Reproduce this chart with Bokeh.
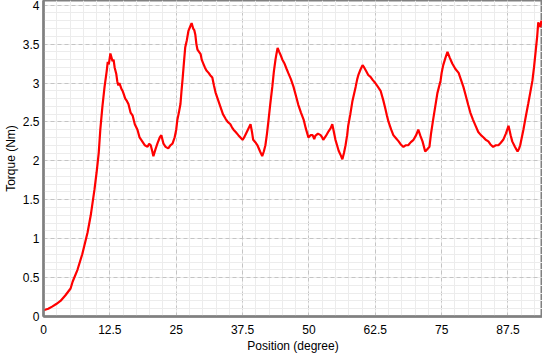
import numpy as np
from bokeh.plotting import figure
from bokeh.models import FixedTicker, Range1d
from bokeh.embed import file_html
from bokeh.resources import INLINE

# Position (degree) and torque (Nm)
position = [0.0, 0.9, 1.7, 2.4, 3.2, 4.1, 5.1, 5.5, 6.4, 7.3, 8.3, 8.9, 9.6, 10.0,
            10.4, 10.7, 11.1, 11.5, 11.7, 11.9, 12.1, 12.3, 12.6, 12.8, 13.0, 13.2,
            13.4, 13.7, 13.9, 14.1, 14.3, 14.5, 14.7, 14.9, 15.1, 15.4, 15.7, 16.0,
            16.4, 16.8, 17.2, 17.7, 18.1, 18.6, 19.1, 19.6, 19.9, 20.2, 20.5, 20.7,
            21.1, 21.5, 21.9, 22.2, 22.6, 23.0, 23.5, 23.9, 24.3, 24.7, 25.0, 25.2,
            25.5, 25.8, 26.0, 26.2, 26.5, 26.7, 27.0, 27.3, 27.6, 27.9, 28.2, 28.4,
            28.6, 28.8, 29.0, 29.3, 29.6, 29.8, 30.1, 30.4, 30.7, 31.1, 31.4, 31.8,
            32.1, 32.4, 32.8, 33.3, 33.8, 34.3, 34.7, 35.2, 35.5, 35.8, 36.2, 36.7,
            37.1, 37.5, 37.8, 38.0, 38.5, 39.0, 39.3, 39.5, 39.9, 40.3, 40.8, 41.2,
            41.5, 41.8, 42.1, 42.4, 42.7, 43.1, 43.4, 43.7, 43.9, 44.1, 44.4, 44.6,
            45.0, 45.4, 45.8, 46.1, 46.6, 47.1, 47.5, 48.0, 48.5, 49.0, 49.4, 49.9,
            50.3, 50.7, 51.0, 51.2, 51.7, 52.2, 52.5, 52.7, 53.2, 53.7, 54.1, 54.4,
            54.7, 55.0, 55.3, 55.6, 56.0, 56.3, 56.6, 56.9, 57.2, 57.4, 57.8, 58.2,
            58.5, 58.8, 59.1, 59.3, 59.7, 60.1, 60.4, 60.8, 61.2, 61.6, 62.0, 62.5,
            63.0, 63.5, 64.0, 64.4, 64.7, 65.0, 65.5, 65.9, 66.4, 66.9, 67.3, 67.8,
            68.2, 68.7, 69.2, 69.7, 70.2, 70.6, 71.0, 71.4, 71.9, 72.3, 72.7, 73.0,
            73.4, 73.8, 74.2, 74.5, 74.8, 75.0, 75.3, 75.7, 76.1, 76.5, 77.0, 77.6,
            78.2, 78.6, 79.1, 79.5, 80.0, 80.4, 80.9, 81.4, 81.9, 82.4, 82.9, 83.3,
            83.8, 84.2, 84.7, 85.2, 85.7, 86.1, 86.6, 87.1, 87.6, 88.0, 88.3, 88.8,
            89.3, 89.6, 89.8, 90.1, 90.4, 90.8, 91.3, 91.7, 92.1, 92.4, 92.7, 93.0,
            93.2, 93.4, 93.6, 93.8, 94.0]
torque = [0.08, 0.10, 0.13, 0.16, 0.20, 0.27, 0.36, 0.45, 0.60, 0.80, 1.08, 1.30, 1.63, 1.85,
          2.10, 2.40, 2.70, 2.95, 3.05, 3.15, 3.27, 3.24, 3.38, 3.33, 3.28, 3.30,
          3.20, 3.12, 3.02, 2.97, 3.00, 2.96, 2.92, 2.90, 2.86, 2.80, 2.77, 2.73,
          2.62, 2.58, 2.47, 2.40, 2.30, 2.25, 2.20, 2.18, 2.22, 2.20, 2.12, 2.06,
          2.15, 2.23, 2.30, 2.33, 2.22, 2.18, 2.16, 2.20, 2.22, 2.30, 2.40, 2.52,
          2.62, 2.73, 2.90, 3.05, 3.30, 3.46, 3.55, 3.67, 3.72, 3.77, 3.70, 3.68,
          3.62, 3.50, 3.43, 3.40, 3.37, 3.30, 3.25, 3.20, 3.16, 3.13, 3.10, 3.07,
          2.97, 2.88, 2.80, 2.70, 2.60, 2.54, 2.50, 2.47, 2.43, 2.40, 2.37, 2.33,
          2.30, 2.27, 2.30, 2.33, 2.40, 2.47, 2.36, 2.27, 2.24, 2.20, 2.12, 2.06,
          2.12, 2.20, 2.35, 2.53, 2.72, 2.95, 3.15, 3.30, 3.38, 3.45, 3.40, 3.37,
          3.30, 3.25, 3.18, 3.13, 3.05, 2.95, 2.85, 2.72, 2.62, 2.53, 2.42, 2.30,
          2.33, 2.33, 2.28, 2.32, 2.35, 2.33, 2.30, 2.27, 2.32, 2.38, 2.42, 2.47,
          2.37, 2.27, 2.20, 2.13, 2.07, 2.02, 2.10, 2.20, 2.33, 2.45, 2.60, 2.77,
          2.86, 2.95, 3.05, 3.10, 3.17, 3.23, 3.20, 3.15, 3.10, 3.08, 3.04, 3.00,
          2.95, 2.90, 2.78, 2.67, 2.58, 2.50, 2.40, 2.33, 2.29, 2.25, 2.21, 2.18,
          2.20, 2.20, 2.24, 2.27, 2.33, 2.40, 2.32, 2.25, 2.12, 2.15, 2.18, 2.35,
          2.53, 2.70, 2.87, 2.95, 3.03, 3.13, 3.23, 3.32, 3.40, 3.33, 3.25, 3.18,
          3.13, 3.05, 2.95, 2.85, 2.72, 2.62, 2.53, 2.45, 2.37, 2.33, 2.30, 2.27,
          2.25, 2.21, 2.18, 2.20, 2.20, 2.23, 2.27, 2.35, 2.45, 2.33, 2.25, 2.18,
          2.12, 2.16, 2.20, 2.30, 2.40, 2.55, 2.73, 2.88, 3.03, 3.20, 3.40, 3.60,
          3.78, 3.74, 3.72, 3.80, 3.76]

x_ticks = [0, 12.5, 25, 37.5, 50, 62.5, 75, 87.5]
x_tick_labels = ["0", "12.5", "25", "37.5", "50", "62.5", "75", "87.5"]
y_ticks = [0, 0.5, 1, 1.5, 2, 2.5, 3, 3.5, 4]
y_tick_labels = ["0", "0.5", "1", "1.5", "2", "2.5", "3", "3.5", "4"]

p = figure(frame_width=499, frame_height=316, output_backend="svg", toolbar_location=None,
           x_range=Range1d(0, 94.0), y_range=Range1d(0, 4.06),
           min_border_left=34, min_border_right=0, min_border_top=0, min_border_bottom=30)

p.line(position, torque, line_color="#ff0000", line_width=2.2)

p.xaxis.ticker = FixedTicker(ticks=x_ticks, minor_ticks=list(np.arange(0, 95, 2.5)))
p.yaxis.ticker = FixedTicker(ticks=y_ticks, minor_ticks=list(np.round(np.arange(0, 4.05, 0.1), 2)))
p.xaxis.major_label_overrides = {t: l for t, l in zip(x_ticks, x_tick_labels)}
p.yaxis.major_label_overrides = {t: l for t, l in zip(y_ticks, y_tick_labels)}

p.xaxis.axis_label = "Position (degree)"
p.yaxis.axis_label = "Torque (Nm)"

for ax in (p.xaxis[0], p.yaxis[0]):
    ax.axis_label_text_font = "Liberation Sans"
    ax.axis_label_text_font_size = "12px"
    ax.axis_label_text_font_style = "normal"
    ax.axis_label_text_color = "#000000"
    ax.major_label_text_font = "Liberation Sans"
    ax.major_label_text_font_size = "12px"
    ax.major_label_text_color = "#000000"
    ax.axis_line_color = "#808080"
    ax.axis_line_width = 2.5
    ax.major_tick_in = 0
    ax.major_tick_out = 0
    ax.minor_tick_in = 0
    ax.minor_tick_out = 0
    ax.major_label_standoff = 4
    ax.axis_label_standoff = 2

p.xaxis.major_label_standoff = 8
p.xaxis.axis_label_standoff = 2

p.outline_line_color = "#808080"
p.outline_line_width = 2

p.grid.grid_line_color = "#c4c4c4"
p.grid.grid_line_dash = "4 3"
p.grid.grid_line_width = 1
p.grid.minor_grid_line_color = "#ececec"
p.grid.minor_grid_line_width = 1

p.background_fill_color = "#ffffff"
p.border_fill_color = "#ffffff"

open("out.html", "w").write(file_html(p, INLINE))
